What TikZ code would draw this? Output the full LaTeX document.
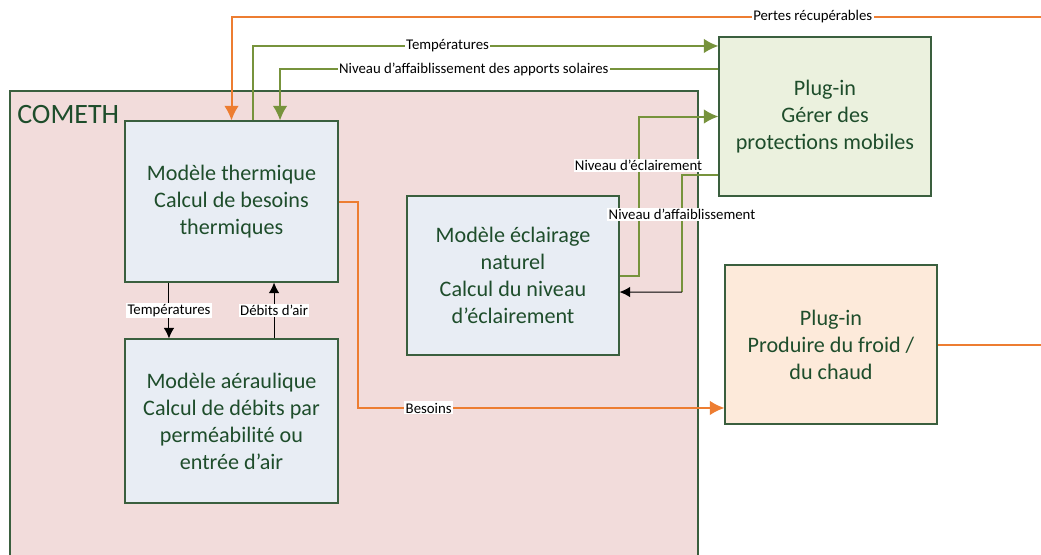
\documentclass[tikz,border=0pt]{standalone}
\usepackage{fontspec}
\setmainfont{Carlito}
\usetikzlibrary{arrows.meta}

\definecolor{boxtext}{HTML}{1E4D2B}
\definecolor{boxborder}{HTML}{3A5F3E}
\definecolor{comethfill}{HTML}{F2DCDB}
\definecolor{modelfill}{HTML}{E8EDF4}
\definecolor{pluginfill}{HTML}{EBF1DE}
\definecolor{froidfill}{HTML}{FDEADA}
\definecolor{flowgreen}{HTML}{77933C}
\definecolor{floworange}{HTML}{ED7D31}

\tikzstyle{every picture}+=[x=0.75pt, y=-0.75pt]
\tikzstyle{bloc}=[draw=boxborder, line width=0.8pt, text=boxtext, align=center,
	font=\fontsize{16.6}{20.3}\selectfont, inner sep=0pt]
\tikzstyle{modele}=[bloc, fill=modelfill, minimum width=159.75pt]
\tikzstyle{lbl}=[fill=white, inner sep=1pt, text=black, font=\fontsize{11.1}{12}\selectfont]
\tikzstyle{fluxvert}=[flowgreen, line width=1.5pt]
\tikzstyle{fluxorange}=[floworange, line width=1.5pt]
\tikzstyle{fluxnoir}=[black, line width=0.75pt]
\tikzstyle{pointe}=[-{Latex[length=11pt,width=11pt]}]
\tikzstyle{pointenoire}=[-{Latex[length=8pt,width=8pt]}]

\begin{document}
\begin{tikzpicture}
	\useasboundingbox (0,0) rectangle (1041,554) ;
	\node[bloc, fill=comethfill, minimum width=516pt, minimum height=348.75pt] (cometh) at (354,323.5) {} ;
	\node[anchor=base west, text=boxtext, font=\fontsize{21}{24}\selectfont, inner sep=0pt] (comethtitre) at (17,123) {COMETH} ;

	\node[modele, minimum height=120.75pt] (thermique) at (231.5,201.5)
		{Modèle thermique\\Calcul de besoins\\thermiques} ;
	\node[modele, minimum height=123pt] (aeraulique) at (231.5,421)
		{Modèle aéraulique\\Calcul de débits par\\perméabilité ou\\entrée d’air} ;
	\node[modele, minimum width=159pt, minimum height=119.25pt] (eclairage) at (513,275.5)
		{Modèle éclairage\\naturel\\Calcul du niveau\\d’éclairement} ;
	\node[bloc, fill=pluginfill, minimum width=159pt, minimum height=119.25pt] (protection) at (825,116.5)
		{Plug-in\\Gérer des\\protections mobiles} ;
	\node[bloc, fill=froidfill, minimum width=159pt, minimum height=119.25pt] (froid) at (831,344.5)
		{Plug-in\\Produire du froid /\\du chaud} ;

	\coordinate (pertesbord) at (1041,17) ;
	\coordinate (froidbord) at (1041,344.5) ;
	\coordinate (affcoin) at (682,292) ;

	\draw[fluxorange, pointe] (pertesbord) -| node[lbl, pos=0.141] {Pertes récupérables} (thermique.north) ;
	\draw[fluxvert, pointe] ([xshift=16.1pt]thermique.north) |- node[lbl, pos=0.709] {Températures} ([yshift=52.9pt]protection.west) ;
	\draw[fluxvert, pointe] ([yshift=35.6pt]protection.west) -| node[lbl, pos=0.279] {Niveau d’affaiblissement des apports solaires} ([xshift=36.4pt]thermique.north) ;
	\draw[fluxvert, pointe] (eclairage.east) -- ++(19,0) |- node[lbl, pos=0.345] {Niveau d’éclairement} (protection.west) ;
	\draw[fluxvert] ([yshift=-43.9pt]protection.west) -| node[lbl, pos=0.667] {Niveau d’affaiblissement} (affcoin) ;
	\draw[fluxnoir, pointenoire] (affcoin) -- ([yshift=-12.4pt]eclairage.east) ;
	\draw[fluxnoir, pointenoire] ([xshift=-46.9pt]thermique.south) -- node[lbl] {Températures} ([xshift=-46.9pt]aeraulique.north) ;
	\draw[fluxnoir, pointenoire] ([xshift=31.9pt]aeraulique.north) -- node[lbl] {Débits d’air} ([xshift=31.9pt]thermique.south) ;
	\draw[fluxorange, pointe] (thermique.east) -- ++(19,0) |- node[lbl, pos=0.597] {Besoins} ([yshift=-47.6pt]froid.west) ;
	\draw[fluxorange] (froid.east) -- (froidbord) ;
\end{tikzpicture}
\end{document}
